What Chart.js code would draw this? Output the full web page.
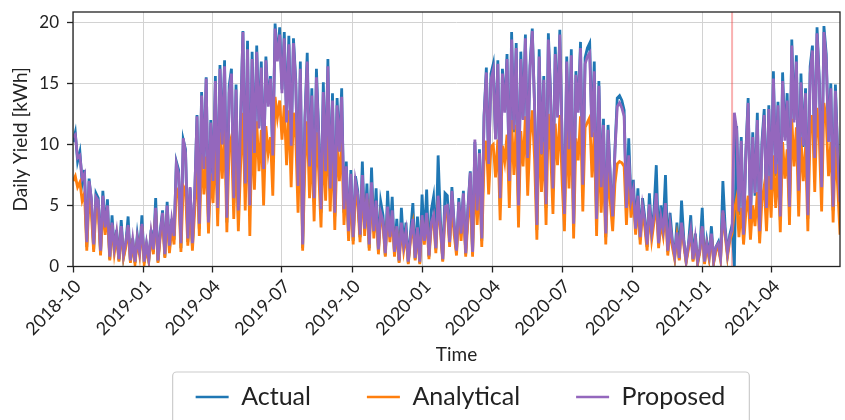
<!DOCTYPE html>
<html>
<head>
<meta charset="utf-8">
<script src="https://cdn.jsdelivr.net/npm/chart.js@4.4.1/dist/chart.umd.min.js"></script>
<style>
  html, body { margin: 0; padding: 0; background: #fff; overflow: hidden; }
  canvas { display: block; }
</style>
</head>
<body>
<canvas id="yieldChart" width="845" height="430"></canvas>
<script>
// one value every 3 days, starting on startDate
const startDate = '2018-10-01'
const stepDays = 3
const seriesNames = ['Actual', 'Analytical', 'Proposed']
const xTickLabels = ['2018-10', '2019-01', '2019-04', '2019-07', '2019-10', '2020-01',
  '2020-04', '2020-07', '2020-10', '2021-01', '2021-04']
const yTickValues = [0, 5, 10, 15, 20]
const markerDate = '2021-02-08'

const actual = [
  10.2, 11.0, 8.6, 9.4, 6.8, 7.9, 1.6, 7.2, 5.4, 1.4, 6.0,
  5.6, 1.0, 6.2, 3.1, 5.5, 0.6, 4.2, 1.3, 3.0, 0.5,
  3.8, 0.8, 1.9, 4.1, 0.4, 2.3, 0.3, 2.6, 1.1, 4.2,
  0.3, 1.8, 0.5, 3.0, 1.2, 5.6, 0.4, 2.9, 4.6, 0.8,
  5.3, 1.4, 3.9, 2.2, 8.6, 7.9, 1.5, 10.4, 9.6, 2.0,
  6.4, 1.6, 5.9, 12.4, 3.1, 14.3, 8.2, 15.5, 3.4, 12.0,
  6.8, 15.6, 4.3, 16.5, 10.2, 16.9, 3.6, 14.8, 16.2, 5.2,
  14.9, 4.0, 12.1, 19.3, 6.5, 18.5, 4.8, 17.6, 9.2, 18.1,
  11.5, 16.8, 7.8, 17.2, 13.4, 15.6, 8.9, 19.9, 17.0, 19.6,
  14.5, 19.2, 12.0, 18.9, 9.8, 18.7, 15.3, 6.4, 16.8, 1.5, 12.2,
  17.5, 8.1, 14.6, 5.3, 16.2, 11.0, 4.4, 15.1, 7.6, 17.0,
  6.2, 14.2, 4.1, 13.8, 9.5, 14.6, 4.4, 8.6, 2.6, 7.9,
  2.1, 7.4, 6.2, 2.4, 8.6, 3.0, 6.8, 1.5, 8.1, 2.8,
  6.4, 1.2, 5.3, 4.2, 0.9, 6.2, 2.5, 5.7, 1.0, 3.9,
  0.4, 4.8, 1.6, 3.6, 0.3, 2.8, 5.2, 0.6, 4.1, 0.3, 5.9,
  2.2, 6.3, 0.8, 4.6, 5.7, 1.4, 9.1, 3.8, 0.5, 6.0,
  5.8, 2.1, 6.5, 3.4, 1.2, 5.6, 2.8, 6.2, 1.0, 4.9,
  7.8, 1.0, 10.2, 4.5, 9.6, 2.1, 12.4, 16.3, 8.2, 15.8,
  16.6, 10.5, 16.9, 5.0, 16.2, 12.8, 17.4, 6.8, 19.2, 11.0,
  18.3, 4.6, 17.6, 12.1, 19.0, 8.7, 16.5, 19.5, 13.2, 3.0,
  17.8, 9.1, 15.6, 4.8, 19.1, 14.0, 6.2, 18.0, 12.4, 19.4,
  10.2, 4.0, 17.2, 9.5, 17.8, 3.1, 16.0, 12.8, 18.4, 6.5, 17.1,
  17.9, 18.3, 10.8, 16.8, 3.6, 15.2, 6.4, 12.1, 2.4, 11.6,
  7.2, 3.9, 9.6, 13.8, 14.0, 13.6, 12.8, 4.6, 10.5, 5.3,
  7.1, 3.2, 6.4, 2.2, 5.6, 4.0, 1.6, 6.0, 2.7, 4.6,
  8.3, 1.9, 5.0, 3.3, 7.5, 1.2, 4.4, 2.1, 0.8, 3.6,
  0.6, 5.4, 2.2, 0.4, 1.8, 4.2, 0.5, 2.7, 0.3, 1.5, 4.8,
  0.3, 2.1, 0.8, 3.3, 0.4, 1.6, 2.0, 0.6, 7.0, 3.2,
  1.0, 2.6, 3.4, 0.0, 11.5, 4.2, 10.6, 2.4, 9.4,
  13.8, 3.6, 11.0, 5.8, 12.6, 2.6, 10.2, 12.9, 4.5, 13.2, 6.1,
  16.0, 7.4, 13.5, 3.8, 15.9, 10.6, 14.2, 4.6, 18.6, 12.0,
  17.3, 6.0, 15.8, 9.8, 14.6, 3.9, 16.4, 18.1, 8.7, 19.6,
  15.2, 6.3, 19.7, 17.4, 10.5, 15.0, 4.6, 14.9, 9.2, 5.0
]

const analytical = [
  7.0, 7.4, 6.5, 6.9, 5.4, 6.0, 1.3, 5.6, 4.3, 1.2, 4.8,
  4.4, 0.9, 4.8, 2.6, 4.3, 0.5, 3.4, 1.1, 2.5, 0.4,
  3.0, 0.7, 1.6, 3.2, 0.3, 1.9, 0.2, 2.1, 0.9, 3.3,
  0.2, 1.5, 0.4, 2.5, 1.0, 4.5, 0.3, 2.4, 3.8, 0.7,
  4.3, 1.1, 3.2, 1.8, 6.4, 6.0, 1.2, 6.6, 6.2, 1.7,
  5.0, 1.3, 4.6, 8.4, 2.5, 9.2, 5.9, 9.0, 2.7, 7.6,
  5.2, 10.4, 3.3, 11.0, 7.2, 11.3, 2.8, 9.8, 10.6, 3.9,
  9.6, 2.9, 8.3, 12.6, 4.6, 12.2, 2.5, 11.6, 6.3, 11.9,
  7.8, 11.2, 5.0, 11.5, 9.3, 10.6, 5.8, 13.9, 12.2, 13.6,
  10.4, 13.2, 8.3, 12.8, 6.5, 12.6, 10.5, 4.4, 11.3, 1.3, 8.4,
  11.9, 5.6, 10.0, 3.7, 11.0, 7.7, 3.2, 10.3, 5.4, 11.4,
  4.5, 10.0, 3.0, 9.9, 7.0, 10.4, 3.4, 6.6, 2.1, 6.1,
  1.8, 6.0, 5.1, 2.0, 6.8, 2.5, 5.5, 1.3, 6.3, 2.3,
  4.8, 1.0, 4.1, 3.3, 0.8, 4.4, 2.0, 4.1, 0.8, 3.0,
  0.3, 3.2, 1.3, 2.6, 0.2, 2.2, 3.4, 0.5, 2.8, 0.2, 3.8,
  1.8, 4.1, 0.6, 3.2, 3.9, 1.1, 5.4, 2.9, 0.4, 4.2,
  4.5, 1.6, 5.0, 2.6, 0.9, 4.3, 2.1, 4.9, 0.8, 3.8,
  5.9, 0.8, 7.4, 3.4, 7.0, 1.6, 8.6, 10.3, 5.9, 9.8,
  10.0, 7.3, 10.4, 3.8, 9.9, 8.6, 10.8, 4.8, 12.0, 7.5,
  11.6, 3.2, 11.1, 8.2, 12.3, 5.8, 10.6, 12.8, 8.8, 2.2,
  11.5, 6.1, 10.2, 3.4, 12.5, 9.4, 4.3, 11.7, 8.3, 12.4,
  6.9, 2.9, 11.3, 6.4, 11.7, 2.3, 10.5, 8.7, 12.3, 4.5, 11.4,
  11.8, 12.2, 7.3, 11.0, 2.5, 10.1, 4.4, 8.3, 1.8, 7.9,
  5.2, 2.9, 6.8, 8.4, 8.6, 8.5, 8.2, 3.4, 7.4, 4.0,
  5.6, 2.6, 5.0, 1.8, 4.5, 3.2, 1.3, 4.6, 2.2, 3.6,
  5.3, 1.5, 3.6, 2.5, 4.6, 0.9, 3.0, 1.6, 0.6, 2.4,
  0.5, 3.4, 1.7, 0.3, 1.4, 2.9, 0.4, 2.0, 0.2, 1.2, 3.1,
  0.2, 1.7, 0.6, 2.5, 0.3, 1.3, 1.6, 0.5, 4.4, 2.5,
  0.8, 2.1, 2.7, 4.6, 5.6, 2.4, 4.8, 1.8, 4.4,
  5.8, 2.2, 5.0, 3.3, 6.1, 1.9, 5.4, 6.6, 2.9, 7.4, 4.0,
  9.1, 4.8, 8.4, 2.8, 10.2, 7.2, 9.6, 3.4, 12.1, 8.2,
  11.4, 4.1, 10.6, 7.0, 9.8, 2.9, 11.0, 12.4, 6.1, 13.0,
  10.3, 4.5, 13.4, 12.0, 7.4, 10.2, 3.6, 9.8, 6.5, 2.6
]

const proposed = [
  10.6, 10.8, 8.9, 9.1, 7.2, 7.6, 2.0, 7.0, 5.6, 1.8, 5.7,
  5.4, 1.3, 5.8, 3.2, 5.0, 0.8, 3.6, 1.5, 2.8, 0.6,
  3.3, 1.0, 2.0, 3.4, 0.5, 2.2, 0.4, 2.4, 1.2, 3.5,
  0.4, 1.9, 0.6, 2.8, 1.4, 4.8, 0.5, 2.8, 4.4, 1.0,
  5.0, 1.7, 3.8, 2.5, 8.4, 7.6, 1.9, 10.5, 9.3, 2.3,
  6.5, 1.9, 6.0, 12.3, 3.5, 14.0, 8.0, 15.4, 3.6, 11.8,
  7.0, 15.2, 4.8, 16.2, 10.0, 16.4, 4.0, 14.2, 15.8, 5.6,
  14.5, 4.6, 12.0, 19.2, 6.8, 17.8, 5.0, 17.0, 9.3, 17.6,
  11.3, 16.3, 8.0, 16.9, 13.1, 15.4, 9.1, 19.5, 16.8, 19.0,
  14.2, 18.7, 11.8, 18.2, 9.9, 18.3, 15.0, 6.6, 16.2, 1.8, 12.0,
  16.8, 8.2, 14.0, 5.6, 15.5, 10.8, 4.7, 14.3, 7.8, 16.4,
  6.4, 13.6, 4.4, 13.2, 9.4, 13.9, 4.7, 8.2, 2.9, 7.6,
  2.4, 7.0, 5.9, 2.6, 7.5, 3.1, 6.0, 1.8, 6.9, 2.9,
  5.4, 1.4, 4.4, 3.7, 1.1, 4.9, 2.4, 4.6, 1.2, 3.3,
  0.5, 3.6, 1.7, 2.9, 0.4, 2.5, 3.9, 0.7, 3.2, 0.4, 4.2,
  2.1, 4.4, 0.9, 3.6, 4.2, 1.5, 5.8, 3.2, 0.6, 4.9,
  5.0, 2.0, 6.2, 3.3, 1.3, 5.3, 2.7, 6.0, 1.1, 4.7,
  7.7, 1.2, 10.4, 4.6, 9.3, 2.3, 12.2, 15.9, 8.4, 15.3,
  16.1, 10.4, 16.6, 5.6, 15.8, 12.6, 17.0, 7.0, 18.6, 11.2,
  17.9, 5.0, 17.0, 12.0, 18.7, 8.9, 16.1, 19.3, 13.0, 3.4,
  17.2, 9.2, 15.3, 5.1, 18.6, 13.7, 6.4, 17.4, 12.2, 19.0,
  10.1, 4.3, 16.8, 9.6, 17.3, 3.5, 15.7, 12.6, 17.9, 6.7, 16.6,
  17.2, 17.5, 10.6, 16.0, 3.9, 14.8, 6.5, 11.6, 2.7, 11.2,
  7.1, 4.1, 9.4, 13.1, 13.4, 13.0, 12.3, 4.8, 9.1, 5.4,
  6.3, 3.1, 5.8, 2.4, 5.0, 3.8, 1.8, 5.1, 2.8, 4.1,
  6.0, 1.9, 4.1, 3.0, 5.2, 1.3, 3.5, 2.0, 0.9, 2.8,
  0.7, 3.6, 2.0, 0.5, 1.8, 3.0, 0.6, 2.3, 0.4, 1.4, 3.3,
  0.4, 1.9, 0.9, 2.7, 0.5, 1.6, 1.9, 0.7, 4.6, 2.8,
  1.1, 2.4, 3.0, 12.6, 11.2, 4.5, 10.3, 2.6, 9.2,
  13.4, 3.9, 10.6, 6.0, 12.0, 2.9, 9.8, 12.4, 4.8, 12.9, 6.3,
  15.4, 7.6, 13.2, 4.1, 15.2, 10.3, 13.6, 4.9, 18.1, 11.8,
  16.8, 6.2, 15.1, 9.9, 14.2, 4.2, 15.8, 17.7, 8.9, 19.1,
  14.9, 6.5, 19.2, 17.0, 10.2, 14.6, 4.9, 14.4, 9.0, 5.3
]

function dayOf(s) {
  if (s.length === 7) s += '-01'
  return (Date.parse(s) - Date.parse(startDate)) / 86400000
}
function toPoints(values) {
  return values.map((v, i) => ({ x: i * stepDays, y: v }))
}

Chart.defaults.font.family = 'Lato'
Chart.defaults.color = '#222'

const textColor = '#222'
const colors = ['#1f77b4', '#ff7f0e', '#9467bd']
const legendFont = 25

// frame, marker line, legend border and legend placement
const framePlugin = {
  id: 'frame',
  afterLayout(chart) {
    const lg = chart.legend
    const pad = lg.options.labels.padding
    lg.left = 76
    lg.right = 845
    lg.width = lg.right - lg.left
    lg.top = 397 - legendFont / 2 - pad
    lg.bottom = chart.height
    lg.height = lg.bottom - lg.top
  },
  beforeDatasetsDraw(chart) {
    const ctx = chart.ctx
    const a = chart.chartArea
    const x = chart.scales.x.getPixelForValue(dayOf(markerDate))
    ctx.save()
    ctx.strokeStyle = 'rgba(240, 60, 60, 0.4)'
    ctx.lineWidth = 2
    ctx.beginPath()
    ctx.moveTo(x, a.top)
    ctx.lineTo(x, a.bottom)
    ctx.stroke()
    ctx.restore()
  },
  afterDraw(chart) {
    const ctx = chart.ctx
    const a = chart.chartArea
    ctx.save()
    ctx.strokeStyle = '#222'
    ctx.lineWidth = 1.3
    ctx.strokeRect(a.left, a.top, a.right - a.left, a.bottom - a.top)

    const lg = chart.legend
    const hb = lg.legendHitBoxes
    if (hb && hb.length) {
      const last = hb[hb.length - 1]
      const left = hb[0].left - 23
      const right = last.left + last.width + 24
      const top = hb[0].top - 12.5
      ctx.strokeStyle = '#cccccc'
      ctx.lineWidth = 1.2
      ctx.beginPath()
      if (ctx.roundRect) ctx.roundRect(left, top, right - left, 70, 4)
      else ctx.rect(left, top, right - left, 70)
      ctx.stroke()
    }
    ctx.restore()
  }
}

const seriesValues = [actual, analytical, proposed]
const datasets = seriesNames.map((name, i) => ({
  label: name,
  data: toPoints(seriesValues[i]),
  borderColor: colors[i],
  backgroundColor: colors[i],
  borderWidth: 2.8,
  pointRadius: 0,
  tension: 0,
  order: 3 - i
}))

const lastDay = (actual.length - 1) * stepDays

new Chart(document.getElementById('yieldChart'), {
  type: 'line',
  data: { datasets },
  options: {
    responsive: false,
    animation: false,
    events: [],
    layout: { padding: { top: 12, right: 5, left: 0, bottom: 0 } },
    plugins: {
      tooltip: { enabled: false },
      legend: {
        position: 'bottom',
        maxHeight: 12,
        labels: {
          color: textColor,
          font: { size: legendFont },
          boxWidth: 33,
          boxHeight: 2.5,
          padding: 56,
          sort: (a, b) => a.datasetIndex - b.datasetIndex,
          generateLabels(chart) {
            return Chart.defaults.plugins.legend.labels.generateLabels(chart)
              .map(item => Object.assign(item, { lineWidth: 0, fillStyle: item.strokeStyle }))
          }
        }
      }
    },
    scales: {
      x: {
        type: 'linear',
        min: 0,
        max: lastDay,
        border: { display: false },
        grid: { color: '#d2d2d2', lineWidth: 1, tickColor: '#222', tickLength: 6, tickWidth: 1.3 },
        ticks: {
          color: textColor,
          font: { size: 18 },
          padding: 3,
          labelOffset: 5,
          autoSkip: false,
          minRotation: 45,
          maxRotation: 45,
          callback: (value, index) => xTickLabels[index]
        },
        title: {
          display: true,
          text: 'Time',
          color: textColor,
          font: { size: 19 },
          padding: { top: 0, bottom: 51.6 }
        },
        afterBuildTicks: s => { s.ticks = xTickLabels.map(l => ({ value: dayOf(l) })) },
        afterFit: s => { s.height = 151.5; s.paddingLeft = 0; s.paddingRight = 0 }
      },
      y: {
        min: 0,
        max: 20.85,
        border: { display: false },
        grid: { color: '#d2d2d2', lineWidth: 1, tickColor: '#222', tickLength: 6, tickWidth: 1.3 },
        ticks: { color: textColor, font: { size: 17 }, padding: 8 },
        title: {
          display: true,
          text: 'Daily Yield [kWh]',
          color: textColor,
          font: { size: 19 },
          padding: { top: 9.6, bottom: 0 }
        },
        afterBuildTicks: s => { s.ticks = yTickValues.map(v => ({ value: v })) },
        afterFit: s => { s.width = 73; s.paddingTop = 0; s.paddingBottom = 0 }
      }
    }
  },
  plugins: [framePlugin]
})
</script>
</body>
</html>
